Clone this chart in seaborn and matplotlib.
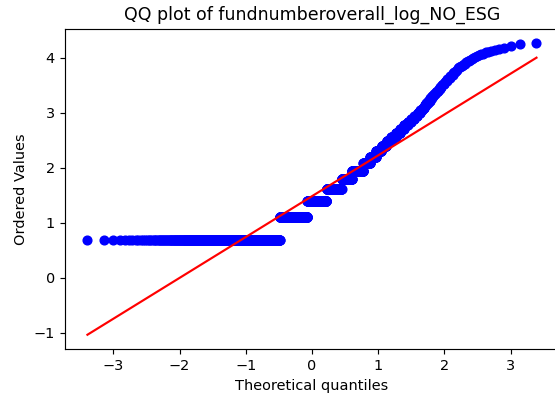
from statistics import NormalDist

import matplotlib
matplotlib.use("Agg")
import matplotlib.pyplot as plt
import numpy as np
import seaborn as sns

# Number of funds per firm (raw counts) and how many firms have each count
fund_number = [2, 3, 4, 5, 6, 7, 8, 9, 10, 11, 12, 13, 14, 15, 16, 17, 18, 19, 20,
               21, 22, 23, 24, 25, 26, 27, 28, 29, 30, 31, 32, 33, 34, 35, 36, 37,
               38, 39, 40, 41, 42, 43, 44, 45, 46, 47, 48, 49, 50, 51, 52, 53, 54,
               55, 56, 57, 58, 60, 61, 62, 63, 64, 65, 67, 70, 71]
firm_count = [626, 318, 230, 172, 108, 108, 58, 47, 40, 33, 29, 26, 22, 18, 17, 14,
              12, 11, 9, 7, 6, 5, 5, 5, 4, 4, 4, 3, 3, 3, 3, 2, 3, 2, 2, 2,
              2, 2, 2, 1, 2, 1, 1, 1, 2, 2, 1, 2, 1, 2, 1, 1, 1,
              1, 1, 1, 2, 1, 1, 1, 1, 1, 1, 1, 1, 1]

title = "QQ plot of fundnumberoverall_log_NO_ESG"
x_label = "Theoretical quantiles"
y_label = "Ordered Values"

# Ordered sample: natural log of fund number
osr = np.sort(np.log(np.repeat(fund_number, firm_count)))
n = osr.size

# Filliben's estimate of the uniform order-statistic medians
m = (np.arange(1, n + 1) - 0.3175) / (n + 0.365)
m[0] = 1 - 0.5 ** (1.0 / n)
m[-1] = 0.5 ** (1.0 / n)
osm = np.array([NormalDist().inv_cdf(p) for p in m])

# Least-squares reference line
slope, intercept = np.polyfit(osm, osr, 1)
fit = slope * osm + intercept

dpi = 104
fig = plt.figure(figsize=(555 / dpi, 401 / dpi), dpi=dpi)
ax = fig.add_axes([0.1171, 0.1289, 0.890, 0.7998])

sns.scatterplot(x=osm, y=osr, ax=ax, color="blue", marker="o", s=36,
                edgecolor="blue", linewidth=1.0, zorder=2)
sns.lineplot(x=osm, y=fit, ax=ax, color="red", linewidth=1.5,
             estimator=None, sort=False, zorder=3)

ax.set_title(title, fontsize=12)
ax.set_xlabel(x_label, fontsize=10)
ax.set_ylabel(y_label, fontsize=10)
ax.set_xticks([-3, -2, -1, 0, 1, 2, 3])
ax.set_yticks([-1, 0, 1, 2, 3, 4])

fig.savefig("out.png", dpi=dpi)
